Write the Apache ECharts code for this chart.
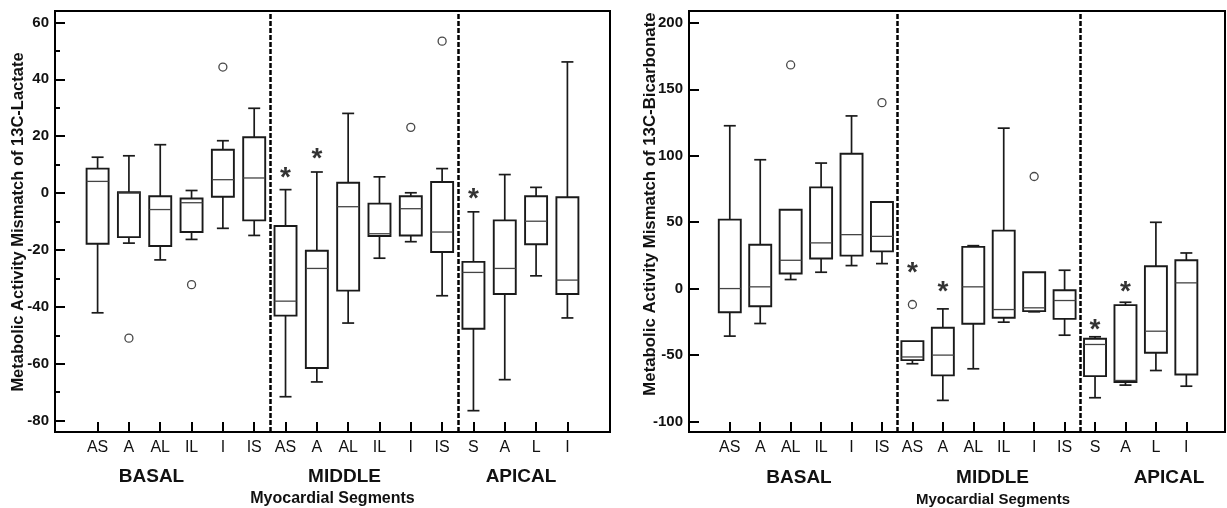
<!DOCTYPE html>
<html><head><meta charset="utf-8">
<script src="https://cdn.jsdelivr.net/npm/echarts@6/dist/echarts.min.js"></script>
<style>html,body{margin:0;padding:0;background:#fff}#c{width:1227px;height:508px}</style>
</head><body><div id="c"></div>
<script>
// ---------- data ----------
const segments = ['AS','A','AL','IL','I','IS','AS','A','AL','IL','I','IS','S','A','L','I'];
const positions = [1,2,3,4,5,6,7,8,9,10,11,12,13,14,15,16];
const groupDividers = [6.5, 12.5];

// 13C-Lactate (left)
const lacMin = [-42.1,-17.6,-23.5,-16.3,-12.4,-14.9,-71.6,-66.4,-45.7,-22.9,-17.1,-36.1,-76.5,-65.6,-29.1,-43.9];
const lacQ1  = [-17.8,-15.5,-18.6,-13.7, -1.3, -9.6,-43.1,-61.5,-34.3,-15.1,-14.9,-20.7,-47.7,-35.5,-18.0,-35.5];
const lacMed = [  4.1,  0.0, -5.8, -3.4,  4.7,  5.3,-38.0,-26.5, -4.8,-14.3, -5.5,-13.7,-27.9,-26.5, -9.9,-30.6];
const lacQ3  = [  8.6,  0.3, -1.1, -1.9, 15.2, 19.6,-11.6,-20.3,  3.6, -3.7, -1.1,  3.9,-24.2, -9.6, -1.1, -1.5];
const lacMax = [ 12.6, 13.1, 17.0,  0.9, 18.4, 29.8,  1.2,  7.4, 28.0,  5.7,  0.1,  8.6, -6.6,  6.5,  2.0, 46.1];
const lacOutliers = [[2,-51.0],[4,-32.2],[5,44.3],[11,23.1],[12,53.4]];
const lacStars = [[7,7.5],[8,14.2],[13,0.3]];
const lacTicks = [-80,-60,-40,-20,0,20,40,60];
const lacMinorTicks = [-70,-50,-30,-10,10,30,50];

// 13C-Bicarbonate (right)
const bicMin = [-35.8,-26.3,  6.8, 12.3, 17.3, 18.8,-56.6,-84.2,-60.4,-25.3,-17.5,-35.1,-82.2,-72.7,-61.7,-73.5];
const bicQ1  = [-17.8,-13.3, 11.3, 22.6, 24.8, 28.0,-53.9,-65.4,-26.5,-22.0,-17.0,-22.8,-65.9,-70.4,-48.3,-64.7];
const bicMed = [  0.0,  1.3, 21.3, 34.4, 40.6, 39.3,-51.5,-50.1,  1.3,-15.8,-14.5, -9.0,-42.1,-69.2,-32.1,  4.3];
const bicQ3  = [ 51.9, 33.0, 59.4, 76.2,101.5, 65.2,-39.6,-29.5, 31.4, 43.6, 12.3, -1.3,-37.8,-12.5, 16.8, 21.3];
const bicMax = [122.6, 97.0, 59.4, 94.5,130.0, 65.2,-39.6,-15.3, 32.3,120.8, 12.3, 13.8,-36.3,-10.3, 49.9, 26.8];
const bicOutliers = [[3,168.4],[6,140.0],[7,-12.0],[11,84.4]];
const bicStars = [[7,16.8],[8,2.3],[13,-25.8],[14,2.3]];
const bicTicks = [-100,-50,0,50,100,150,200];

// ---------- build ----------
const FONT = '"Liberation Sans", Arial, sans-serif';
function boxRows(mn, q1, md, q3, mx) {
  return positions.map((p, i) => [p, mn[i], q1[i], md[i], q3[i], mx[i]]);
}
function boxRender(params, api) {
  const x = api.value(0);
  const pMin = api.coord([x, api.value(1)]);
  const pQ1 = api.coord([x, api.value(2)]);
  const pMed = api.coord([x, api.value(3)]);
  const pQ3 = api.coord([x, api.value(4)]);
  const pMax = api.coord([x, api.value(5)]);
  const cx = pMed[0], hw = 11, cw = 6;
  const st = { stroke: '#1a1a1a', lineWidth: 1.7, fill: null };
  const ch = [];
  if (pMax[1] < pQ3[1] - 0.5) {
    ch.push({ type: 'line', shape: { x1: cx, y1: pQ3[1], x2: cx, y2: pMax[1] }, style: st });
    ch.push({ type: 'line', shape: { x1: cx - cw, y1: pMax[1], x2: cx + cw, y2: pMax[1] }, style: st });
  }
  if (pMin[1] > pQ1[1] + 0.5) {
    ch.push({ type: 'line', shape: { x1: cx, y1: pQ1[1], x2: cx, y2: pMin[1] }, style: st });
    ch.push({ type: 'line', shape: { x1: cx - cw, y1: pMin[1], x2: cx + cw, y2: pMin[1] }, style: st });
  }
  ch.push({ type: 'rect', shape: { x: cx - hw, y: pQ3[1], width: 2 * hw, height: pQ1[1] - pQ3[1] }, style: { stroke: '#1a1a1a', lineWidth: 1.9, fill: '#fff' } });
  ch.push({ type: 'line', shape: { x1: cx - hw, y1: pMed[1], x2: cx + hw, y2: pMed[1] }, style: { stroke: '#444', lineWidth: 1.3 } });
  return { type: 'group', children: ch };
}

function xAxisFor(gridIndex, min, max) {
  return {
    type: 'value', gridIndex, min, max,
    axisLine: { show: true, onZero: false, lineStyle: { color: '#000', width: 2 } },
    axisTick: { show: true, inside: true, length: 10, customValues: positions, lineStyle: { color: '#000', width: 2 } },
    axisLabel: { show: true, customValues: positions, margin: 8, fontSize: 16, color: '#111', fontFamily: FONT,
      formatter: v => segments[Math.round(v) - 1] || '' },
    splitLine: { show: false }
  };
}
function yAxisFor(gridIndex, min, max, ticks) {
  return {
    type: 'value', gridIndex, min, max, position: 'left',
    axisLine: { show: true, onZero: false, lineStyle: { color: '#000', width: 2 } },
    axisTick: { show: true, inside: true, length: 10, customValues: ticks, lineStyle: { color: '#000', width: 2 } },
    axisLabel: { show: true, customValues: ticks, margin: 6, fontSize: 15, fontWeight: 'bold', color: '#111', fontFamily: FONT },
    splitLine: { show: false }
  };
}

const yAxes = [
  yAxisFor(0, -84, 64, lacTicks),
  yAxisFor(1, -108, 209, bicTicks),
  {
    type: 'value', gridIndex: 0, min: -84, max: 64, position: 'left', offset: 0,
    axisLine: { show: false, onZero: false },
    axisTick: { show: true, inside: true, length: 5, customValues: lacMinorTicks, lineStyle: { color: '#000', width: 2 } },
    axisLabel: { show: false }, splitLine: { show: false }
  }
];

function series(gi, rows, outliers, stars) {
  return [
    { type: 'custom', xAxisIndex: gi, yAxisIndex: gi, renderItem: boxRender, data: rows,
      encode: { x: 0, y: [1, 2, 3, 4, 5] }, z: 3 },
    { type: 'scatter', xAxisIndex: gi, yAxisIndex: gi, data: outliers, symbol: 'circle', symbolSize: 8,
      itemStyle: { color: '#fff', borderColor: '#1a1a1a', borderWidth: 1.3 }, z: 4,
      markLine: { silent: true, symbol: ['none', 'none'], label: { show: false },
        lineStyle: { color: '#000', width: 2.5, type: [5, 2], opacity: 1 },
        data: groupDividers.map(v => ({ xAxis: v })) } },
    { type: 'scatter', xAxisIndex: gi, yAxisIndex: gi, data: stars, symbolSize: 0, z: 5,
      label: { show: true, position: 'inside', formatter: '*', offset: [0, 7], fontSize: 28, fontWeight: 'bold', color: '#000', fontFamily: FONT } }
  ];
}

function txt(x, y, text, size, weight, rot) {
  return { type: 'text', x, y, rotation: rot || 0,
    style: { text, font: `${weight} ${size}px ${FONT}`, fill: '#111', align: 'center', verticalAlign: 'middle' } };
}

const chart = echarts.init(document.getElementById('c'), null, { renderer: 'canvas' });
chart.setOption({
  animation: false,
  backgroundColor: '#fff',
  grid: [
    { left: 55, top: 11, width: 555, height: 421, show: true, borderColor: '#000', borderWidth: 2, backgroundColor: 'transparent' },
    { left: 689, top: 11, width: 536, height: 421, show: true, borderColor: '#000', borderWidth: 2, backgroundColor: 'transparent' }
  ],
  xAxis: [xAxisFor(0, -0.36, 17.36), xAxisFor(1, -0.34, 17.27)],
  yAxis: yAxes,
  series: [
    ...series(0, boxRows(lacMin, lacQ1, lacMed, lacQ3, lacMax), lacOutliers, lacStars),
    ...series(1, boxRows(bicMin, bicQ1, bicMed, bicQ3, bicMax), bicOutliers, bicStars)
  ],
  graphic: [
    txt(18, 222, 'Metabolic Activity Mismatch of 13C-Lactate', 16.5, 'bold', Math.PI / 2),
    txt(650, 204, 'Metabolic Activity Mismatch of 13C-Bicarbonate', 16.8, 'bold', Math.PI / 2),
    txt(151.5, 477, 'BASAL', 19, 'bold'),
    txt(344.5, 477, 'MIDDLE', 19, 'bold'),
    txt(521, 477, 'APICAL', 19, 'bold'),
    txt(332.5, 498.5, 'Myocardial Segments', 16, 'bold'),
    txt(799, 478, 'BASAL', 19, 'bold'),
    txt(992.5, 478, 'MIDDLE', 19, 'bold'),
    txt(1169, 478, 'APICAL', 19, 'bold'),
    txt(993, 499.5, 'Myocardial Segments', 15, 'bold')
  ]
});
</script>
</body></html>
